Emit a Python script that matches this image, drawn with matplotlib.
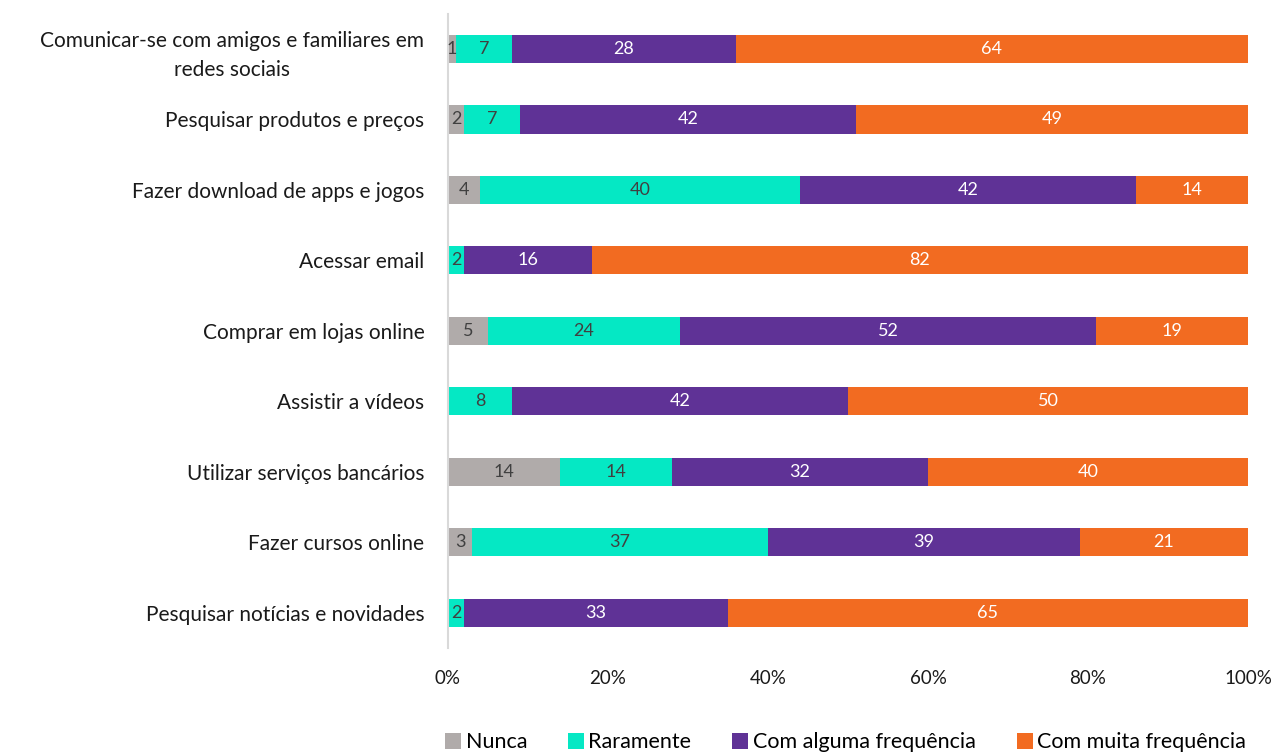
import matplotlib.pyplot as plt
import numpy as np

plt.rcParams['font.family'] = ['Lato', 'DejaVu Sans']

categories = [
    "Comunicar-se com amigos e familiares em\nredes sociais",
    "Pesquisar produtos e preços",
    "Fazer download de apps e jogos",
    "Acessar email",
    "Comprar em lojas online",
    "Assistir a vídeos",
    "Utilizar serviços bancários",
    "Fazer cursos online",
    "Pesquisar notícias e novidades",
]
series = ["Nunca", "Raramente", "Com alguma frequência", "Com muita frequência"]
nunca = [1, 2, 4, 0, 5, 0, 14, 3, 0]
raramente = [7, 7, 40, 2, 24, 8, 14, 37, 2]
alguma = [28, 42, 42, 16, 52, 42, 32, 39, 33]
muita = [64, 49, 14, 82, 19, 50, 40, 21, 65]
xticks = [0, 20, 40, 60, 80, 100]
xtick_labels = ["0%", "20%", "40%", "60%", "80%", "100%"]

colors = ["#B0ABAA", "#05E8C4", "#5F3296", "#F26B21"]
text_colors = ["#404040", "#404040", "white", "white"]

fig = plt.figure(figsize=(12.74, 7.55), dpi=100)
ax = fig.add_axes([0.3516, 0.1417, 0.628, 0.8401])

y = np.arange(len(categories))
left = np.zeros(len(categories))
for name, vals, c, tc in zip(series, [nunca, raramente, alguma, muita], colors, text_colors):
    vals = np.array(vals, dtype=float)
    ax.barh(y, vals, left=left, height=0.4, color=c, label=name)
    for yi, l, v in zip(y, left, vals):
        if v > 0:
            ax.text(l + v / 2, yi, f"{int(v)}", ha="center", va="center",
                    color=tc, fontsize=13)
    left += vals

ax.set_xlim(0, 100)
ax.set_ylim(len(categories) - 0.5, -0.5)
ax.set_yticks(y)
ax.set_yticklabels(categories, fontsize=15, color="#1a1a1a", multialignment="center",
                   linespacing=1.55)
ax.set_xticks(xticks)
ax.set_xticklabels(xtick_labels, fontsize=13.5, color="#1a1a1a")
ax.tick_params(axis="both", length=0)
ax.tick_params(axis="y", pad=17)
ax.tick_params(axis="x", pad=16)
for s in ["top", "right", "bottom"]:
    ax.spines[s].set_visible(False)
ax.spines["left"].set_color("#D9D9D9")
ax.spines["left"].set_linewidth(1.5)

ax.legend(loc="lower right", bbox_to_anchor=(1.0, -0.168), ncol=4, frameon=False,
          fontsize=15.5, handlelength=0.75, handleheight=0.75, handletextpad=0.2,
          columnspacing=1.9, borderaxespad=0, borderpad=0.1)

fig.savefig("out.png", dpi=100)
